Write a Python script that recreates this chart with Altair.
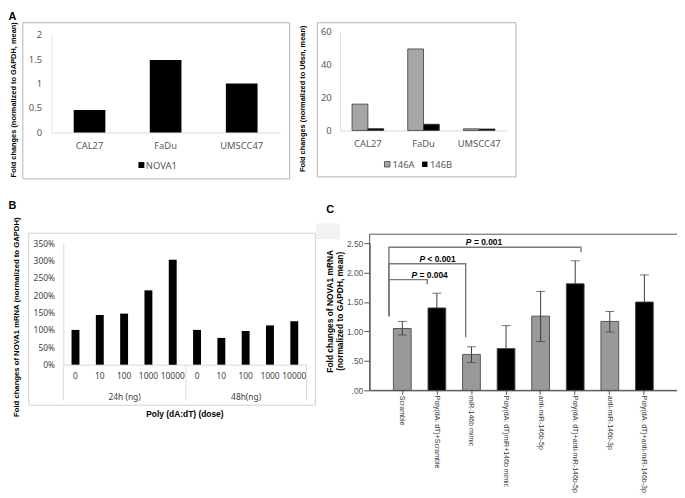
import altair as alt
import pandas as pd

W, H = 677, 490
M = 8  # page margin


def px(v):
    return v - M


# ---------------- data ----------------
a_cells = ["CAL27", "FaDu", "UMSCC47"]
a1_nova1 = [0.46, 1.48, 1.00]
a1_ticks = [0, 0.5, 1, 1.5, 2]
a2_series = ["146A", "146B"]
a2_146a = [16.0, 49.5, 1.0]
a2_146b = [1.1, 3.8, 0.9]
a2_ticks = [0, 20, 40, 60]

b_doses = ["0", "10", "100", "1000", "10000"]
b_times = ["24h (ng)", "48h(ng)"]
b_24h = [1.00, 1.43, 1.47, 2.14, 3.02]
b_48h = [1.00, 0.77, 0.97, 1.13, 1.25]
b_ticks = [0, 0.5, 1, 1.5, 2, 2.5, 3, 3.5]

c_groups = ["Scramble", "Poly(dA: dT)+Scramble", "miR-146b mimic",
            "Poly(dA: dT)miR+146b mimic", "anti-miR-146b-5p",
            "Poly(dA: dT)+anti-miR-146b-5p", "anti-miR-146b-3p",
            "Poly(dA: dT)+anti-miR-146b-3p"]
c_kind = ["gray", "black", "gray", "black", "gray", "black", "gray", "black"]
c_mean = [1.05, 1.40, 0.61, 0.71, 1.26, 1.81, 1.17, 1.50]
c_upper = [1.17, 1.65, 0.74, 1.10, 1.68, 2.20, 1.34, 1.96]
c_lower = [0.94, 1.15, 0.47, 0.32, 0.83, 1.42, 0.99, 1.04]
c_ticks = [0, 0.5, 1, 1.5, 2, 2.5]
c_sig_target = ["Poly(dA: dT)+Scramble", "miR-146b mimic", "Poly(dA: dT)+anti-miR-146b-5p"]
c_sig_level = [1.88, 2.15, 2.43]
c_sig_left_end = [1.26, 1.26, 1.26]
c_sig_right_end = [1.80, 0.90, 2.35]
c_sig_sign = ["= 0.004", "< 0.001", "= 0.001"]

# ---------------- tables ----------------
df_a1 = pd.DataFrame({"cell": a_cells, "value": a1_nova1})
df_a2 = pd.DataFrame({"cell": a_cells * 2,
                      "series": [a2_series[0]] * 3 + [a2_series[1]] * 3,
                      "value": a2_146a + a2_146b})
b_keys = [f"{d}_{t}" for t in b_times for d in b_doses]
df_b = pd.DataFrame({"key": b_keys, "value": b_24h + b_48h})
df_c = pd.DataFrame({"group": c_groups, "kind": c_kind, "mean": c_mean,
                     "upper": c_upper, "lower": c_lower})
br_rows = []
for i, tgt in enumerate(c_sig_target):
    pts = [("Scramble", c_sig_left_end[i]), ("Scramble", c_sig_level[i]),
           (tgt, c_sig_level[i]), (tgt, c_sig_right_end[i])]
    for j, (g, v) in enumerate(pts):
        br_rows.append({"id": i, "o": j, "group": g, "v": v})
df_br = pd.DataFrame(br_rows)

XL = "Noto Sans"
AR = "Liberation Sans"
ONE = alt.Data(values=[{"k": 1}])


def txt(s, x, y, size=9, weight="normal", style="normal", angle=0,
        align="center", baseline="middle", color="#000000", font=AR):
    return alt.Chart(ONE).mark_text(
        text=s, fontSize=size, fontWeight=weight, fontStyle=style, angle=angle,
        align=align, baseline=baseline, color=color, font=font
    ).encode(x=alt.value(px(x)), y=alt.value(px(y)))


def box(x1, y1, x2, y2, stroke="#bfbfbf", fill=None, sw=1):
    kw = dict(strokeWidth=sw)
    if stroke:
        kw["stroke"] = stroke
    else:
        kw["strokeOpacity"] = 0
    if fill:
        kw["fill"] = fill
    else:
        kw["fillOpacity"] = 0
    return alt.Chart(ONE).mark_rect(**kw).encode(
        x=alt.value(px(x1)), x2=alt.value(px(x2)),
        y=alt.value(px(y1)), y2=alt.value(px(y2)))


def vline(x, y1, y2, color="#d9d9d9", sw=1):
    return alt.Chart(ONE).mark_rule(color=color, strokeWidth=sw).encode(
        x=alt.value(px(x)), y=alt.value(px(y1)), y2=alt.value(px(y2)))


layers = []

# ================= Panel A (left) =================
a1_xs = alt.Scale(domain=a_cells, range=[px(52), px(283)], paddingInner=0.584, paddingOuter=0.292)
a1_ys = alt.Scale(domain=[0, 2], range=[px(131), px(32)], nice=False, zero=False)
layers.append(box(23, 20, 293, 178, stroke="#b4b4b4"))
layers.append(alt.Chart(df_a1).mark_bar(color="#000000").encode(
    x=alt.X("cell:N", scale=a1_xs, axis=alt.Axis(
        orient="bottom", offset=px(131) - H, title=None, labelAngle=0, ticks=False,
        grid=False, domainColor="#d9d9d9", labelFont=XL, labelFontSize=9.5,
        labelColor="#595959", labelPadding=8)),
    y=alt.Y("value:Q", scale=a1_ys, axis=alt.Axis(
        orient="left", offset=-px(52), title=None, values=a1_ticks, format="~g",
        ticks=False, grid=False, domainColor="#e3e3e3", labelFont=XL,
        labelFontSize=9.5, labelColor="#595959", labelPadding=10))))
layers.append(txt("A", 8.5, 8.5, size=11, weight="bold", align="left", baseline="top"))
layers.append(txt("Fold changes (normalized to GAPDH, mean)", 14, 98, size=7.5,
                  weight="bold", angle=270))
layers.append(box(140, 161, 146, 167, stroke=None, fill="#000000"))
layers.append(txt("NOVA1", 147.5, 164.5, size=9.5, align="left", color="#595959", font=XL))

# ================= Panel A (right) =================
a2_xs = alt.Scale(domain=a_cells, range=[px(344), px(513)], paddingInner=0.432, paddingOuter=0.216)
a2_ys = alt.Scale(domain=[0, 60], range=[px(129), px(29)], nice=False, zero=False)
layers.append(box(321, 20, 522, 176, stroke="#b4b4b4"))
layers.append(alt.Chart(df_a2).mark_bar(stroke="#3a3a3a", strokeWidth=0.8).encode(
    x=alt.X("cell:N", scale=a2_xs, axis=alt.Axis(
        orient="bottom", offset=px(129) - H, title=None, labelAngle=0, ticks=False,
        grid=False, domainColor="#d9d9d9", labelFont=XL, labelFontSize=9.5,
        labelColor="#595959", labelPadding=8)),
    xOffset=alt.XOffset("series:N", scale=alt.Scale(domain=a2_series, paddingInner=0, paddingOuter=0)),
    y=alt.Y("value:Q", scale=a2_ys, axis=alt.Axis(
        orient="left", offset=-px(344), title=None, values=a2_ticks, format="d",
        ticks=False, grid=False, domainColor="#e3e3e3", labelFont=XL,
        labelFontSize=9.5, labelColor="#595959", labelPadding=9)),
    color=alt.Color("series:N", scale=alt.Scale(domain=a2_series, range=["#a6a6a6", "#000000"]),
                    legend=None)))
layers.append(txt("Fold changes (normalized to U6sn, mean)", 307, 97, size=7.5,
                  weight="bold", angle=270))
layers.append(box(389, 160.5, 394.5, 166, stroke="#404040", fill="#a6a6a6", sw=0.8))
layers.append(txt("146A", 397, 163.5, size=9.5, align="left", color="#595959", font=XL))
layers.append(box(427, 160.5, 432.5, 166, stroke=None, fill="#000000"))
layers.append(txt("146B", 435, 163.5, size=9.5, align="left", color="#595959", font=XL))

# ================= Panel B =================
b_xs = alt.Scale(domain=b_keys, range=[px(64), px(310)], paddingInner=0.675, paddingOuter=0.3375)
b_ys = alt.Scale(domain=[0, 3.5], range=[px(366), px(243)], nice=False, zero=False)
layers.append(box(29, 233, 319, 407, stroke="#d0d0d0"))
for xv in (64, 188, 310):
    layers.append(vline(xv, 366, 402, color="#d9d9d9"))
layers.append(alt.Chart(df_b).mark_bar(color="#000000").encode(
    x=alt.X("key:N", scale=b_xs, axis=alt.Axis(
        orient="bottom", offset=px(366) - H, title=None, labelAngle=0, ticks=False,
        grid=False, domainColor="#d9d9d9", labelFont=XL, labelFontSize=8.5,
        labelColor="#404040", labelPadding=7, labelExpr="split(datum.value, '_')[0]")),
    y=alt.Y("value:Q", scale=b_ys, axis=alt.Axis(
        orient="left", offset=-px(64), title=None, values=b_ticks, format=".0%",
        ticks=False, grid=False, domainColor="#d9d9d9", labelFont=XL,
        labelFontSize=8.5, labelColor="#404040", labelPadding=9))))
layers.append(txt("B", 8.5, 205, size=11, weight="bold", align="left"))
layers.append(txt(b_times[0], 126, 398.5, size=8.5, color="#404040", font=XL))
layers.append(txt(b_times[1], 249, 398.5, size=8.5, color="#404040", font=XL))
layers.append(txt("Poly (dA:dT) (dose)", 187, 416, size=8.5, weight="bold"))
layers.append(txt("Fold changes of NOVA1  mRNA (normalized to GAPDH)", 17, 318,
                  size=7.8, weight="bold", angle=270))

# ================= Panel C =================
c_xs = alt.Scale(domain=c_groups, range=[px(374), px(685)], paddingInner=0.486, paddingOuter=0.686)
c_ys = alt.Scale(domain=[0, 2.5], range=[px(392), px(243)], nice=False, zero=False)
c_color = alt.Scale(domain=["gray", "black"], range=["#999999", "#000000"])
layers.append(box(320, 223, 344, 239, stroke=None, fill="#f2f2f2"))
layers.append(box(374, 234, 720, 392, stroke="#555555"))
layers.append(alt.Chart(df_c).mark_bar(stroke="#4a4a4a", strokeWidth=0.9).encode(
    x=alt.X("group:N", scale=c_xs, axis=alt.Axis(
        orient="bottom", offset=px(392) - H, title=None, labelAngle=90, ticks=True,
        tickSize=4, tickColor="#555555", grid=False, domainColor="#555555",
        labelFont=AR, labelFontSize=7.1, labelColor="#333333", labelPadding=1,
        labelLimit=300)),
    y=alt.Y("mean:Q", scale=c_ys, axis=alt.Axis(
        orient="left", offset=-px(374), title=None, values=c_ticks,
        labelExpr="datum.value < 1 ? substring(format(datum.value, '.2f'), 1) : format(datum.value, '.2f')",
        ticks=True, tickSize=6, tickColor="#555555", grid=False, domainColor="#555555",
        labelFont=AR, labelFontSize=8.5, labelColor="#555555", labelPadding=1)),
    color=alt.Color("kind:N", scale=c_color, legend=None)))

# error bars: upper whiskers on all bars, lower whiskers only where visible (gray bars)
layers.append(alt.Chart(df_c).mark_rule(color="#3a3a3a", strokeWidth=1).encode(
    x=alt.X("group:N", scale=c_xs, axis=None),
    y=alt.Y("mean:Q", scale=c_ys, axis=None), y2="upper:Q"))
layers.append(alt.Chart(df_c).mark_tick(color="#3a3a3a", size=9, thickness=1).encode(
    x=alt.X("group:N", scale=c_xs, axis=None),
    y=alt.Y("upper:Q", scale=c_ys, axis=None)))
layers.append(alt.Chart(df_c).transform_filter("datum.kind == 'gray'").mark_rule(
    color="#3a3a3a", strokeWidth=1).encode(
    x=alt.X("group:N", scale=c_xs, axis=None),
    y=alt.Y("lower:Q", scale=c_ys, axis=None), y2="mean:Q"))
layers.append(alt.Chart(df_c).transform_filter("datum.kind == 'gray'").mark_tick(
    color="#3a3a3a", size=9, thickness=1).encode(
    x=alt.X("group:N", scale=c_xs, axis=None),
    y=alt.Y("lower:Q", scale=c_ys, axis=None)))

# significance brackets
layers.append(alt.Chart(df_br).mark_line(color="#7a7a7a", strokeWidth=1.4).encode(
    x=alt.X("group:N", scale=c_xs, axis=None),
    y=alt.Y("v:Q", scale=c_ys, axis=None),
    detail="id:N", order="o:Q"))

sig_pos = [(435, 275), (443, 259), (490, 242)]
for (cx, cy), rest in zip(sig_pos, c_sig_sign):
    layers.append(txt("P", cx - 13, cy, size=8.5, weight="bold", style="italic", align="right"))
    layers.append(txt(rest, cx - 10.5, cy, size=8.5, weight="bold", align="left"))

layers.append(txt("C", 334, 210, size=11, weight="bold"))
layers.append(txt("Fold changes of NOVA1 mRNA", 334, 312, size=8.5, weight="bold", angle=270))
layers.append(txt("(normalized to GAPDH, mean)", 343.5, 312, size=8.5, weight="bold", angle=270))

chart = alt.layer(*layers).properties(
    width=W, height=H, padding=0,
    autosize=alt.AutoSizeParams(type="none"),
    background="white",
).resolve_scale(
    x="independent", y="independent", color="independent"
).configure_view(stroke=None)

chart.save("out.html", embed_options={"renderer": "svg", "actions": False})
